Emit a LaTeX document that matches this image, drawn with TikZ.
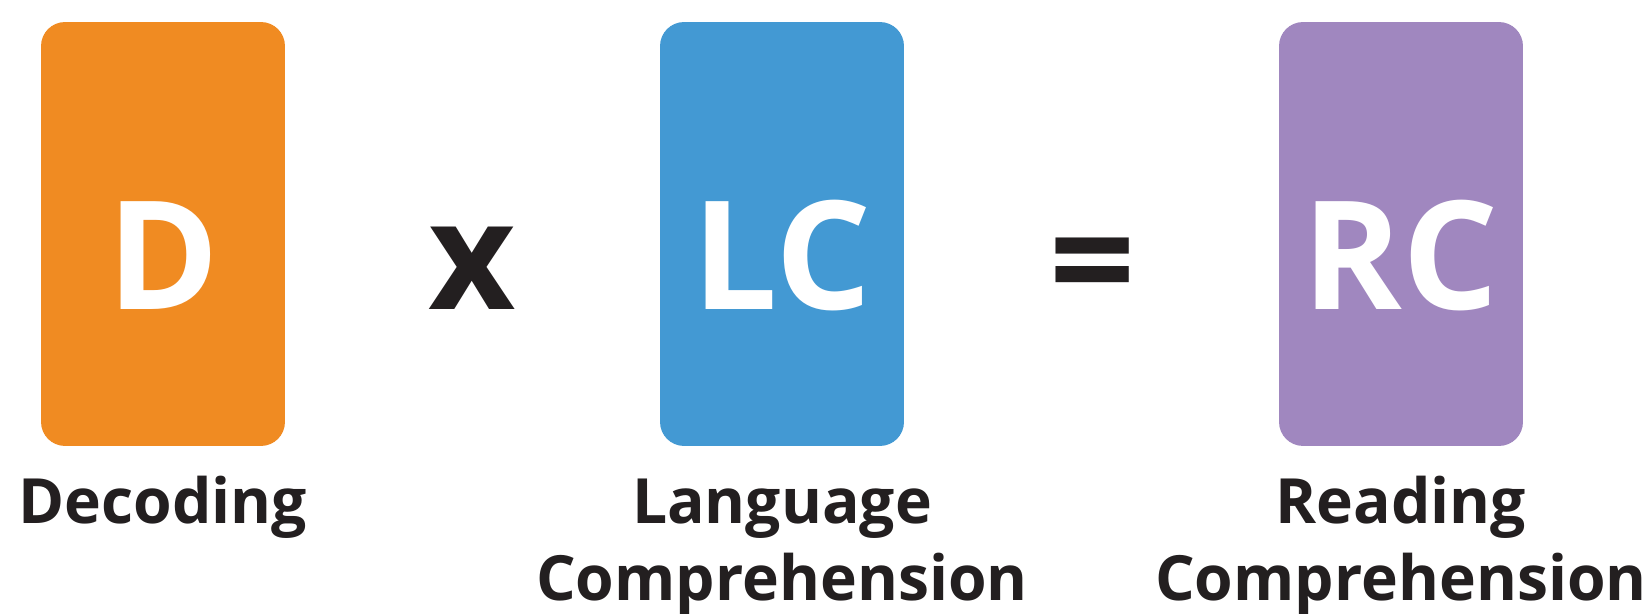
\documentclass[tikz,border=0pt]{standalone}
\usepackage{fontspec}
\setmainfont{Open Sans}
\usepackage{tikz}
\usetikzlibrary{positioning}

\definecolor{decodeorange}{RGB}{240,139,34}
\definecolor{langblue}{RGB}{67,153,211}
\definecolor{readpurple}{RGB}{160,135,191}
\definecolor{inkblack}{RGB}{35,31,32}

\begin{document}
\begin{tikzpicture}[x=0.02cm, y=-0.02cm,
        card/.style     = {rectangle, rounded corners=0.48cm, minimum width=4.88cm, minimum height=8.48cm, inner sep=0pt},
        glyph/.style    = {text=white, font=\fontsize{86}{86}\selectfont\bfseries, inner sep=0pt, anchor=base},
        operator/.style = {text=inkblack, font=\fontsize{86}{86}\selectfont\bfseries, inner sep=0pt, anchor=base},
        caption/.style  = {text=inkblack, font=\fontsize{35.5}{43.6}\selectfont\bfseries, align=center, inner sep=0pt}]

        \useasboundingbox (0,0) rectangle (1651,614);

        % the three cards
        \node[card, fill=decodeorange] (dec) at (163,234) {};
        \node[card, fill=langblue]     (lc)  at (782,234) {};
        \node[card, fill=readpurple]   (rc)  at (1401,234) {};

        % letters inside the cards
        \begin{scope}[every node/.style={glyph}]
            \node (decl) at ([yshift=-1.52cm]dec.center) {D};
            \node (lcl)  at ([yshift=-1.52cm]lc.center)  {LC};
            \node (rcl)  at ([yshift=-1.52cm]rc.center)  {RC};
        \end{scope}

        % the signs between the cards
        \node[operator] (times)  at (472,310)  {x};
        \node[operator] (equals) at (1093,314) {=};

        % captions under the cards (base of a two line node is its last line)
        \node[caption, below=1.54cm of dec, anchor=base] (deccap) {Decoding};
        \node[caption, below=3.08cm of lc, anchor=base]  (lccap)  {Language\\Comprehension};
        \node[caption, below=3.08cm of rc, anchor=base]  (rccap)  {Reading\\Comprehension};

\end{tikzpicture}
\end{document}
